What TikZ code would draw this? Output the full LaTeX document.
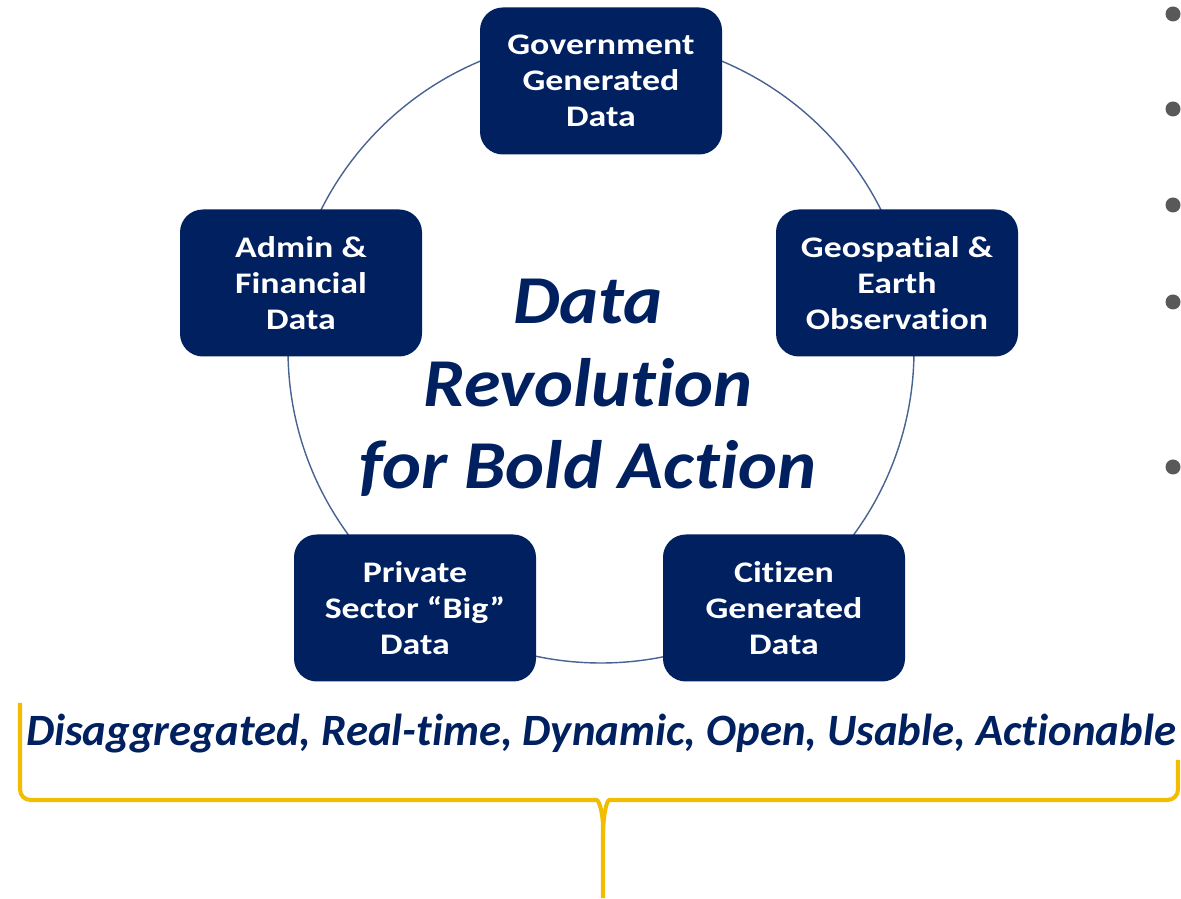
\documentclass[tikz,border=0pt]{standalone}
\usepackage{fontspec}
\setmainfont{Carlito}[Ligatures=NoCommon]
\newfontfamily\boxfont{Carlito}[Ligatures=NoCommon, FakeStretch=1.2]
\newfontfamily\titlefont{Carlito}[Ligatures=NoCommon, FakeStretch=1.08]
\usetikzlibrary{positioning}
\definecolor{navy}{RGB}{0,32,96}
\definecolor{ringblue}{RGB}{72,98,145}
\definecolor{braceyellow}{RGB}{242,188,0}
\definecolor{dotgray}{RGB}{89,89,89}
\tikzset{
  sourcebox/.style={rectangle, rounded corners=13pt, fill=navy, text=white,
    minimum width=4.84cm, minimum height=2.94cm, align=center,
    font=\boxfont\fontsize{17}{20.4}\selectfont\bfseries},
  dot/.style={circle, fill=dotgray, inner sep=0pt, minimum size=0.3cm}
}
\begin{document}
\begin{tikzpicture}
		\useasboundingbox (0,0) rectangle (23.62,17.96);
		
		\draw[ringblue, line width=0.8pt] (12.02,10.96) circle (6.26);
		
		\node[sourcebox] (gov) at (12.02,16.34) {Government\\Generated\\Data};
		\node[sourcebox] (admin) at (6.02,12.30) {Admin \&\\Financial\\Data};
		\node[sourcebox] (geo) at (17.94,12.30) {Geospatial \&\\Earth\\Observation};
		\node[sourcebox] (priv) at (8.30,5.80) {Private\\Sector “Big”\\Data};
		\node[sourcebox] (cit) at (15.68,5.80) {Citizen\\Generated\\Data};
		
		\node[text=navy, align=center, font=\titlefont\fontsize{39}{47}\selectfont\bfseries\itshape] (title) at (11.76,10.20) {Data\\Revolution\\for Bold Action};
		
		\node[text=navy, font=\fontsize{25.5}{30}\selectfont\bfseries\itshape] (traits) at (12.02,3.28) {Disaggregated, Real-time, Dynamic, Open, Usable, Actionable};
		
		% brace under the traits
		\draw[braceyellow, line width=2.3pt, rounded corners=6pt] (0.40,3.90) |- (11.72,1.96)
			.. controls (11.98,1.96) and (12.06,1.70) .. (12.06,1.20) -- (12.06,0);
		\draw[braceyellow, line width=2.3pt, rounded corners=6pt] (23.56,2.76) |- (12.40,1.96)
			.. controls (12.14,1.96) and (12.06,1.70) .. (12.06,1.20);
		
		% bullets at the edge
		\foreach \y [count=\i] in {17.68,15.78,13.86,11.92,8.62}
			\node[dot] (b\i) at (23.46,\y) {};
\end{tikzpicture}
\end{document}
